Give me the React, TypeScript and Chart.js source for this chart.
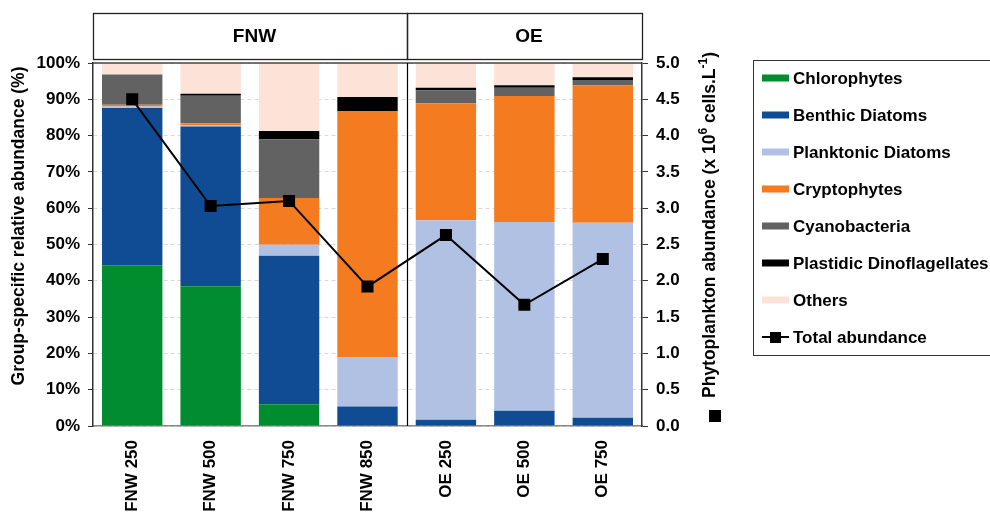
import React, { useEffect, useRef } from "react";
import { Chart, registerables } from "chart.js";

Chart.register(...registerables);

const categories = ["FNW 250", "FNW 500", "FNW 750", "FNW 850", "OE 250", "OE 500", "OE 750"];
const chlorophytes = [44.3, 38.5, 6.0, 0, 0, 0.2, 0];
const benthicDiatoms = [43.3, 44.0, 40.9, 5.4, 1.7, 4.0, 2.3];
const planktonicDiatoms = [0.4, 0.3, 3.0, 13.6, 55.0, 52.0, 53.7];
const cryptophytes = [0.5, 0.6, 12.9, 67.8, 32.2, 34.7, 37.9];
const cyanobacteria = [8.3, 7.6, 16.2, 0, 3.6, 2.3, 1.4];
const dinoflagellates = [0, 0.5, 2.3, 3.8, 0.7, 0.7, 0.8];
const others = [3.2, 8.5, 18.7, 9.4, 6.8, 6.1, 3.9];
const totalAbundance = [4.5, 3.03, 3.1, 1.92, 2.63, 1.67, 2.3];

const groups = ["FNW", "OE"];
const groupSizes = [4, 3];

const seriesNames = [
  "Chlorophytes",
  "Benthic Diatoms",
  "Planktonic Diatoms",
  "Cryptophytes",
  "Cyanobacteria",
  "Plastidic Dinoflagellates",
  "Others",
];
const seriesColors = ["#008C2F", "#0F4C94", "#B1C1E4", "#F47B20", "#626262", "#000000", "#FDE2D7"];
const seriesData = [
  chlorophytes,
  benthicDiatoms,
  planktonicDiatoms,
  cryptophytes,
  cyanobacteria,
  dinoflagellates,
  others,
];

const FONT = '"Liberation Sans", Arial, sans-serif';

const overlay = {
  id: "overlay",
  afterDraw(chart: any) {
    const ctx = chart.ctx as CanvasRenderingContext2D;
    const area = chart.chartArea;
    const x = chart.scales.x;
    ctx.save();

    // top border of plot
    ctx.strokeStyle = "#444";
    ctx.lineWidth = 1.5;
    ctx.beginPath();
    ctx.moveTo(area.left, area.top);
    ctx.lineTo(area.right, area.top);
    ctx.stroke();

    // group separator & headers
    const bounds: number[] = [area.left];
    let idx = 0;
    groupSizes.forEach((n, gi) => {
      idx += n;
      if (gi < groupSizes.length - 1) {
        bounds.push((x.getPixelForValue(idx - 1) + x.getPixelForValue(idx)) / 2);
      }
    });
    bounds.push(area.right);

    ctx.strokeStyle = "#000";
    ctx.lineWidth = 1.2;
    for (let i = 1; i < bounds.length - 1; i++) {
      ctx.beginPath();
      ctx.moveTo(Math.round(bounds[i]) + 0.5, area.top);
      ctx.lineTo(Math.round(bounds[i]) + 0.5, area.bottom);
      ctx.stroke();
    }
    const hTop = 13.5;
    const hBot = 59.5;
    ctx.strokeStyle = "#222";
    ctx.lineWidth = 1.3;
    ctx.fillStyle = "#000";
    ctx.font = `bold 19px ${FONT}`;
    ctx.textAlign = "center";
    ctx.textBaseline = "middle";
    for (let i = 0; i < groups.length; i++) {
      const l = Math.round(bounds[i]) + 0.5;
      const r = Math.round(bounds[i + 1]) + 0.5;
      ctx.strokeRect(l, hTop, r - l, hBot - hTop);
      ctx.fillText(groups[i], (l + r) / 2 + 4, (hTop + hBot) / 2);
    }

    // left title
    ctx.save();
    ctx.translate(19, 226);
    ctx.rotate(-Math.PI / 2);
    ctx.font = `bold 17.5px ${FONT}`;
    ctx.textAlign = "center";
    ctx.textBaseline = "middle";
    ctx.fillText("Group-specific relative abundance (%)", 0, 0);
    ctx.restore();

    // right title with superscripts
    const parts: [string, boolean][] = [
      ["Phytoplankton abundance (x 10", false],
      ["6", true],
      [" cells.L", false],
      ["-1", true],
      [")", false],
    ];
    const big = `bold 17.5px ${FONT}`;
    const small = `bold 12px ${FONT}`;
    let total = 0;
    parts.forEach(([t, sup]) => {
      ctx.font = sup ? small : big;
      total += ctx.measureText(t).width;
    });
    ctx.save();
    ctx.translate(710, 225);
    ctx.rotate(-Math.PI / 2);
    ctx.textAlign = "left";
    ctx.textBaseline = "middle";
    let cx = -total / 2;
    parts.forEach(([t, sup]) => {
      ctx.font = sup ? small : big;
      ctx.fillText(t, cx, sup ? -6 : 0);
      cx += ctx.measureText(t).width;
    });
    ctx.restore();
    ctx.fillStyle = "#000";
    ctx.fillRect(709, 410, 12, 12);

    // legend
    ctx.strokeStyle = "#333";
    ctx.lineWidth = 1;
    ctx.strokeRect(753.5, 60.5, 300, 295);
    ctx.font = `bold 17px ${FONT}`;
    ctx.textAlign = "left";
    ctx.textBaseline = "middle";
    const y0 = 78;
    const step = 37;
    seriesNames.forEach((name, i) => {
      const y = y0 + step * i;
      ctx.fillStyle = seriesColors[i];
      ctx.fillRect(762, y - 3.5, 27, 7);
      ctx.fillStyle = "#000";
      ctx.fillText(name, 793, y + 1);
    });
    const yl = y0 + step * seriesNames.length;
    ctx.strokeStyle = "#000";
    ctx.lineWidth = 2;
    ctx.beginPath();
    ctx.moveTo(762, yl);
    ctx.lineTo(789, yl);
    ctx.stroke();
    ctx.fillRect(770, yl - 5, 11, 11);
    ctx.fillText("Total abundance", 793, yl + 1);

    ctx.restore();
  },
};

export default function App() {
  const ref = useRef<HTMLCanvasElement | null>(null);

  useEffect(() => {
    if (!ref.current) return;
    const barSets = seriesNames.map((name, i) => ({
      type: "bar" as const,
      label: name,
      data: seriesData[i],
      backgroundColor: seriesColors[i],
      borderWidth: 0,
      stack: "s",
      yAxisID: "y",
      order: 2,
      barPercentage: 0.77,
      categoryPercentage: 1,
    }));
    const chart = new Chart(ref.current, {
      type: "bar",
      data: {
        labels: categories,
        datasets: [
          {
            type: "line" as const,
            label: "Total abundance",
            data: totalAbundance,
            yAxisID: "y2",
            borderColor: "#000",
            backgroundColor: "#000",
            borderWidth: 2,
            pointStyle: "rect",
            pointRadius: 8.5,
            pointBorderWidth: 0,
            order: 0,
          } as any,
          ...barSets,
        ],
      },
      options: {
        animation: false,
        responsive: false,
        layout: { padding: { top: 63, left: 0, right: 0, bottom: 0 } },
        plugins: { legend: { display: false }, tooltip: { enabled: false }, title: { display: false } },
        scales: {
          x: {
            stacked: true,
            offset: true,
            grid: { display: true, drawOnChartArea: false, drawTicks: false },
            border: { color: "#888", width: 1.5 },
            ticks: {
              color: "#000",
              font: { family: FONT, size: 17, weight: "bold" },
              minRotation: 90,
              maxRotation: 90,
              padding: 14,
              autoSkip: false,
            },
            afterFit(scale: any) {
              scale.height = 86;
            },
          },
          y: {
            stacked: true,
            min: 0,
            max: 100,
            position: "left",
            ticks: {
              stepSize: 10,
              color: "#000",
              font: { family: FONT, size: 17, weight: "bold" },
              padding: 8,
              callback: (v: any) => `${v}%`,
            },
            grid: {
              color: "#d9d9d9",
              tickColor: "#333",
              tickLength: 5,
              tickBorderDash: [],
            },
            border: { color: "#333", width: 1.5, dash: [4, 3] },
            afterFit(scale: any) {
              scale.width = 93;
            },
          } as any,
          y2: {
            min: 0,
            max: 5,
            position: "right",
            ticks: {
              stepSize: 0.5,
              color: "#000",
              font: { family: FONT, size: 17, weight: "bold" },
              padding: 8,
              callback: (v: any) => Number(v).toFixed(1),
            },
            grid: { drawOnChartArea: false, tickColor: "#333", tickLength: 6 },
            border: { color: "#333", width: 1.5 },
            afterFit(scale: any) {
              scale.width = 348;
            },
          },
        },
      },
      plugins: [overlay],
    });
    return () => chart.destroy();
  }, []);

  return (
    <div style={{ position: "absolute", left: 0, top: 0, width: 990, height: 512, background: "#fff" }}>
      <canvas ref={ref} width={990} height={512} />
    </div>
  );
}
